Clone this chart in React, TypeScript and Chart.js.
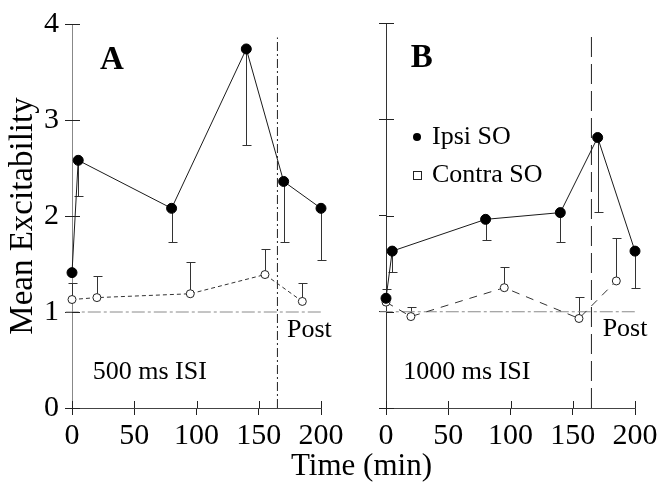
import React, { useEffect, useRef } from "react";
import { Chart, registerables } from "chart.js";

Chart.register(...registerables);

const SERIF = "'Liberation Serif', 'Times New Roman', Times, serif";

// ---------- data ----------
const xTickValues = [0, 50, 100, 150, 200];
const yTickValues = [0, 1, 2, 3, 4];

const ipsiA_time = [0, 5, 80, 140, 170, 200];
const ipsiA_mean = [1.41, 2.58, 2.08, 3.74, 2.36, 2.08];
const ipsiA_err = [0, 0.37, 0.35, 1.0, 0.63, 0.54];
const contraA_time = [0, 20, 95, 155, 185];
const contraA_mean = [1.13, 1.15, 1.19, 1.39, 1.11];
const contraA_err = [0.17, 0.23, 0.33, 0.27, 0.19];

const ipsiB_time = [0, 5, 80, 140, 170, 200];
const ipsiB_mean = [1.14, 1.63, 1.96, 2.03, 2.81, 1.63];
const ipsiB_err = [0, 0.22, 0.21, 0.31, 0.77, 0.38];
const contraB_time = [0, 20, 95, 155, 185];
const contraB_mean = [1.1, 0.95, 1.25, 0.93, 1.32];
const contraB_err = [0.14, 0.1, 0.22, 0.22, 0.45];

const baselineLevel = 1;
const baselineFrom = -5;
const postTime = 165;
const postTop = 3.86;

const legendLabels = ["Ipsi SO", "Contra SO"];

// ---------- plugins ----------
const errorBarPlugin = {
  id: "errorBarsCustom",
  beforeDatasetsDraw(chart: any) {
    const { ctx } = chart;
    const xs = chart.scales.x;
    const ys = chart.scales.y;
    chart.data.datasets.forEach((ds: any) => {
      const eb = ds.errorBars;
      if (!eb) return;
      ctx.save();
      ctx.strokeStyle = eb.color;
      ctx.lineWidth = 1;
      ctx.setLineDash([]);
      ds.data.forEach((p: any, j: number) => {
        const e = eb.values[j];
        if (!e) return;
        const px = Math.round(xs.getPixelForValue(p.x)) + 0.5;
        const y0 = ys.getPixelForValue(p.y);
        const y1 = Math.round(ys.getPixelForValue(p.y + eb.dir * e)) + 0.5;
        ctx.beginPath();
        ctx.moveTo(px, y0);
        ctx.lineTo(px, y1);
        ctx.moveTo(px - 4, y1);
        ctx.lineTo(px + 5, y1);
        ctx.stroke();
      });
      ctx.restore();
    });
  },
};

const innerTickPlugin = {
  id: "innerTicks",
  afterDraw(chart: any) {
    const { ctx, chartArea } = chart;
    const xs = chart.scales.x;
    const ys = chart.scales.y;
    ctx.save();
    ctx.strokeStyle = "#222";
    ctx.lineWidth = 1;
    ctx.setLineDash([]);
    ctx.beginPath();
    xs.ticks.forEach((t: any) => {
      const px = Math.round(xs.getPixelForValue(t.value)) + 0.5;
      ctx.moveTo(px, chartArea.bottom);
      ctx.lineTo(px, chartArea.bottom - 7);
    });
    ys.ticks.forEach((t: any) => {
      const py = Math.round(ys.getPixelForValue(t.value)) + 0.5;
      ctx.moveTo(chartArea.left, py);
      ctx.lineTo(chartArea.left + 8, py);
    });
    ctx.stroke();
    ctx.restore();
  },
};

const textPlugin = {
  id: "panelTexts",
  afterDraw(chart: any, _args: any, opts: any) {
    const { ctx, chartArea } = chart;
    const xs = chart.scales.x;
    const ys = chart.scales.y;
    ctx.save();
    ctx.fillStyle = "#000";
    ctx.textBaseline = "middle";
    (opts.items || []).forEach((it: any) => {
      ctx.font = it.font;
      ctx.textAlign = it.align || "left";
      ctx.fillText(it.text, xs.getPixelForValue(it.x), ys.getPixelForValue(it.y));
    });
    const lg = opts.legend;
    if (lg) {
      const x0 = chartArea.left + lg.dx;
      lg.labels.forEach((label: string, i: number) => {
        const y = chartArea.top + lg.dy + i * lg.gap;
        ctx.setLineDash([]);
        if (i === 0) {
          ctx.beginPath();
          ctx.arc(x0, y, 4, 0, Math.PI * 2);
          ctx.fillStyle = "#000";
          ctx.fill();
        } else {
          ctx.strokeStyle = "#222";
          ctx.lineWidth = 1;
          ctx.strokeRect(Math.round(x0 - 4) + 0.5, Math.round(y - 4) + 0.5, 8, 8);
        }
        ctx.fillStyle = "#000";
        ctx.font = `26px ${SERIF}`;
        ctx.textAlign = "left";
        ctx.fillText(label, x0 + 15, y);
      });
    }
    ctx.restore();
  },
};

// ---------- helpers ----------
const pts = (xs: number[], ys: number[]) => xs.map((x, i) => ({ x, y: ys[i] }));

type PanelProps = {
  left: number;
  width: number;
  axisWidth: number;
  padRight: number;
  showYLabels: boolean;
  ipsi: { t: number[]; m: number[]; e: number[] };
  contra: { t: number[]; m: number[]; e: number[] };
  contraDash: number[];
  postDash: number[];
  yBorderColor: string;
  yBorderDash: number[];
  items: any[];
  legend?: any;
};

function Panel(p: PanelProps) {
  const ref = useRef<HTMLCanvasElement | null>(null);
  useEffect(() => {
    if (!ref.current) return;
    const chart = new Chart(ref.current, {
      type: "line",
      data: {
        datasets: [
          {
            label: legendLabels[0],
            data: pts(p.ipsi.t, p.ipsi.m),
            borderColor: "#1a1a1a",
            borderWidth: 1,
            pointRadius: 5,
            pointBackgroundColor: "#000",
            pointBorderColor: "#000",
            pointBorderWidth: 1,
            clip: false,
            errorBars: { values: p.ipsi.e, dir: -1, color: "#333" },
          } as any,
          {
            label: legendLabels[1],
            data: pts(p.contra.t, p.contra.m),
            borderColor: "#333",
            borderWidth: 1,
            borderDash: p.contraDash,
            pointRadius: 4,
            pointBackgroundColor: "#fff",
            pointBorderColor: "#222",
            pointBorderWidth: 1,
            clip: false,
            errorBars: { values: p.contra.e, dir: 1, color: "#333" },
          } as any,
          {
            label: "baseline",
            data: [
              { x: baselineFrom, y: baselineLevel },
              { x: 200, y: baselineLevel },
            ],
            borderColor: "#8a8a8a",
            borderWidth: 1,
            borderDash: [13, 3, 3, 3],
            pointRadius: 0,
            clip: false,
          },
          {
            label: "post",
            data: [
              { x: postTime, y: 0 },
              { x: postTime, y: postTop },
            ],
            borderColor: "#222",
            borderWidth: 1,
            borderDash: p.postDash,
            pointRadius: 0,
            clip: false,
          },
        ],
      },
      options: {
        responsive: false,
        devicePixelRatio: 1,
        animation: false,
        events: [],
        layout: { padding: { top: 23, right: p.padRight, left: 0, bottom: 0 } },
        plugins: {
          legend: { display: false },
          tooltip: { enabled: false },
          panelTexts: { items: p.items, legend: p.legend },
        } as any,
        scales: {
          x: {
            type: "linear",
            min: 0,
            max: 200,
            afterBuildTicks: (s: any) => {
              s.ticks = xTickValues.map((v) => ({ value: v }));
            },
            afterFit: (s: any) => {
              s.height = 78;
            },
            grid: { drawOnChartArea: false, drawTicks: true, tickLength: 7, color: "#222", lineWidth: 1 },
            border: { display: true, color: "#444", width: 1, dash: [6, 2, 2, 2] },
            ticks: {
              padding: 3,
              color: "#000",
              font: { family: SERIF, size: 30 },
              maxRotation: 0,
              autoSkip: false,
            },
          },
          y: {
            type: "linear",
            min: 0,
            max: 4,
            afterBuildTicks: (s: any) => {
              s.ticks = yTickValues.map((v) => ({ value: v }));
            },
            afterFit: (s: any) => {
              s.width = p.axisWidth;
            },
            grid: { drawOnChartArea: false, drawTicks: true, tickLength: 7, color: "#222", lineWidth: 1 },
            border: { display: true, color: p.yBorderColor, width: 1, dash: p.yBorderDash },
            ticks: {
              display: p.showYLabels,
              padding: 6,
              color: "#000",
              font: { family: SERIF, size: 30 },
            },
            title: {
              display: p.showYLabels,
              text: "Mean Excitability",
              color: "#000",
              font: { family: SERIF, size: 33 },
              padding: { top: 4, bottom: 0 },
            },
          },
        },
      } as any,
      plugins: [errorBarPlugin, innerTickPlugin, textPlugin],
    });
    return () => chart.destroy();
  }, []);
  return (
    <canvas
      ref={ref}
      width={p.width}
      height={486}
      style={{ position: "absolute", left: p.left, top: 0, width: p.width, height: 486, display: "block" }}
    />
  );
}

export default function App() {
  return (
    <div
      style={{
        position: "absolute",
        left: 0,
        top: 0,
        width: 661,
        height: 486,
        background: "#fff",
        overflow: "hidden",
      }}
    >
      <Panel
        left={0}
        width={350}
        axisWidth={72}
        padRight={29}
        showYLabels={true}
        ipsi={{ t: ipsiA_time, m: ipsiA_mean, e: ipsiA_err }}
        contra={{ t: contraA_time, m: contraA_mean, e: contraA_err }}
        contraDash={[4, 3]}
        postDash={[9, 3, 2, 3]}
        yBorderColor="#888"
        yBorderDash={[]}
        items={[
          { text: "A", x: 32, y: 3.62, font: `bold 33px ${SERIF}`, align: "center" },
          { text: "500 ms ISI", x: 16.6, y: 0.37, font: `26px ${SERIF}` },
          { text: "Post", x: 172.7, y: 0.81, font: `26px ${SERIF}` },
        ]}
      />
      <Panel
        left={350}
        width={311}
        axisWidth={36}
        padRight={26}
        showYLabels={false}
        ipsi={{ t: ipsiB_time, m: ipsiB_mean, e: ipsiB_err }}
        contra={{ t: contraB_time, m: contraB_mean, e: contraB_err }}
        contraDash={[8, 7]}
        postDash={[20, 7]}
        yBorderColor="#333"
        yBorderDash={[2, 2]}
        items={[
          { text: "B", x: 28.7, y: 3.63, font: `bold 33px ${SERIF}`, align: "center" },
          { text: "1000 ms ISI", x: 13.9, y: 0.37, font: `26px ${SERIF}` },
          { text: "Post", x: 174, y: 0.82, font: `26px ${SERIF}` },
        ]}
        legend={{ dx: 31, dy: 114, gap: 38, labels: legendLabels }}
      />
      <div
        style={{
          position: "absolute",
          left: 291,
          top: 449,
          fontFamily: SERIF,
          fontSize: 31,
          lineHeight: "31px",
          color: "#000",
          whiteSpace: "nowrap",
        }}
      >
        Time (min)
      </div>
    </div>
  );
}
